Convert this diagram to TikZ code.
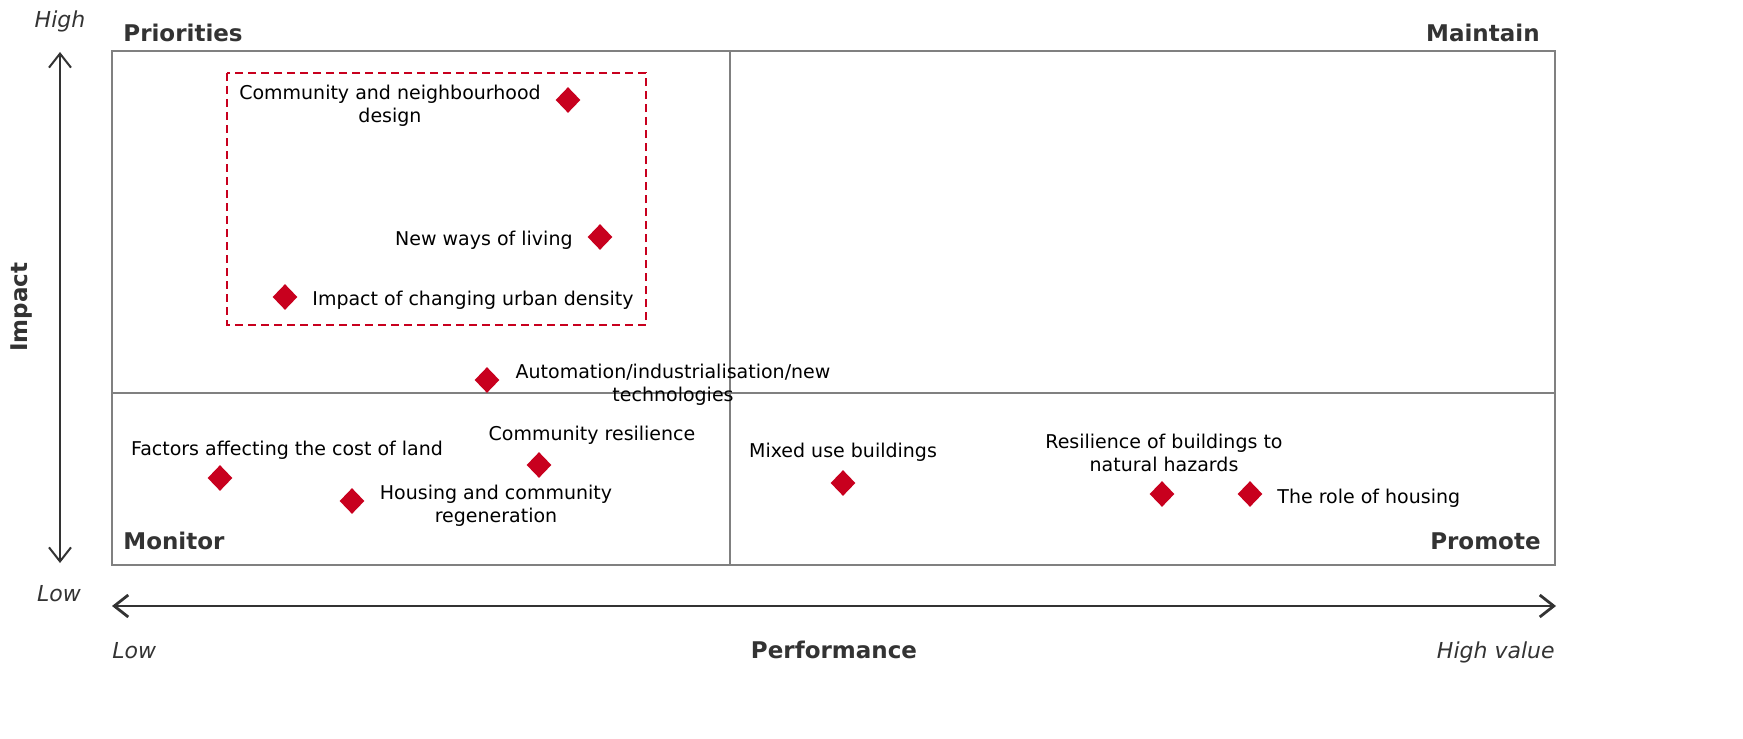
\documentclass[tikz,border=0pt]{standalone}
\usepackage{fontspec}
\setmainfont{DejaVu Sans}
\usetikzlibrary{shapes.geometric,arrows.meta}
\definecolor{dred}{HTML}{C8001E}
\definecolor{gridgray}{HTML}{808080}
\definecolor{axisdark}{HTML}{333333}
\tikzset{
  item/.style={font=\fontsize{9.5}{11.5}\selectfont, text=black, inner sep=0pt, yshift=-1.25pt},
  itemc/.style={item, align=center},
  marker/.style={shape=diamond, fill=dred, draw=none, aspect=1, minimum width=12.5pt, minimum height=13pt, inner sep=0pt},
  quad/.style={font=\fontsize{11.5}{13}\selectfont\bfseries, text=axisdark, inner sep=0pt, yshift=-1.25pt},
  axlab/.style={font=\fontsize{11}{13}\selectfont\itshape, text=axisdark, inner sep=0pt, yshift=-1pt},
  axtitle/.style={font=\fontsize{11.5}{13}\selectfont\bfseries, text=axisdark, inner sep=0pt},
  axarrow/.style={draw=axisdark, {Straight Barb[length=7pt,width=11pt]}-{Straight Barb[length=7pt,width=11pt]}},
}
\begin{document}
\begin{tikzpicture}[x=0.5pt,y=-0.5pt]
\useasboundingbox (0,0) rectangle (1743,738);
% grid
\draw[gridgray, line width=0.75pt] (112,51) rectangle (1555,565);
\draw[gridgray, line width=0.75pt] (730,51) -- (730,565);
\draw[gridgray, line width=0.75pt] (112,393) -- (1555,393);
% dashed priority box
\draw[dred, line width=1pt, dash pattern=on 4pt off 2.5pt] (227,73) rectangle (646,325);
% axes
\coordinate (vt) at (60,52);
\coordinate (vb) at (60,563);
\draw[axarrow, line width=1pt] (vt) -- (vb);
\coordinate (hl) at (112,606);
\coordinate (hr) at (1556,606);
\draw[axarrow, line width=1.4pt] (hl) -- (hr);
% axis labels
\node[axlab, anchor=mid] (high) at (60,20) {High};
\node[axlab, anchor=mid] (lowv) at (59,594) {Low};
\node[axtitle, rotate=90] (impact) at (22,307) {Impact};
\node[axlab, anchor=mid west] (lowh) at (112,651) {Low};
\node[axtitle, anchor=mid, yshift=-1.25pt] (perf) at (834,651) {Performance};
\node[axlab, anchor=mid east] (highv) at (1555,651) {High value};
% quadrant labels
\node[quad, anchor=mid west] (prio) at (123,34) {Priorities};
\node[quad, anchor=mid east] (maint) at (1540,34) {Maintain};
\node[quad, anchor=mid west] (mon) at (123,542) {Monitor};
\node[quad, anchor=mid east] (prom) at (1541,542) {Promote};
% markers
\node[marker] (m1) at (568,100) {};
\node[marker] (m2) at (600,237) {};
\node[marker] (m3) at (285,297) {};
\node[marker] (m4) at (487,380) {};
\node[marker] (m5) at (539,465) {};
\node[marker] (m6) at (220,478) {};
\node[marker] (m7) at (352,501) {};
\node[marker] (m8) at (843,483) {};
\node[marker] (m9) at (1162,494) {};
\node[marker] (m10) at (1250,494) {};
% labels
\node[itemc] (t1) at (390,103) {Community and neighbourhood\\design};
\node[item, anchor=mid east] (t2) at (573,238) {New ways of living};
\node[item, anchor=mid west] (t3) at (312,298) {Impact of changing urban density};
\node[itemc] (t4) at (673,382) {Automation/industrialisation/new\\technologies};
\node[item, anchor=mid] (t5) at (592,433) {Community resilience};
\node[item, anchor=mid] (t6) at (287,448) {Factors affecting the cost of land};
\node[itemc] (t7) at (496,503) {Housing and community\\regeneration};
\node[item, anchor=mid] (t8) at (843,450) {Mixed use buildings};
\node[itemc] (t9) at (1164,450) {Resilience of buildings to\\natural hazards};
\node[item, anchor=mid west] (t10) at (1277,496) {The role of housing};
\end{tikzpicture}
\end{document}
